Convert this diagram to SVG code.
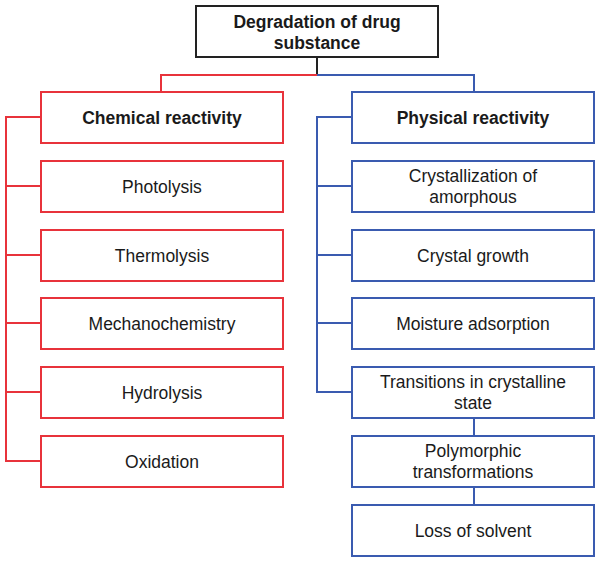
<svg xmlns="http://www.w3.org/2000/svg" width="600" height="561" viewBox="0 0 600 561">
<style>
rect{fill:#fff;stroke-width:2}
.r rect{stroke:#e8333b}.b rect{stroke:#3a5bb0}.k rect{stroke:#222}
text{font-family:"Liberation Sans",Arial,sans-serif;font-size:17.5px;fill:#1a1a1a;text-anchor:middle}
.bold{font-weight:bold}
.cr{stroke:#e8333b;stroke-width:2;fill:none}.cb{stroke:#3a5bb0;stroke-width:2;fill:none}.ck{stroke:#222;stroke-width:2;fill:none}
</style>
<rect width="600" height="561" fill="#fff" stroke="none"/>
<g id="connectors">
<path class="ck" d="M317 57V75"/>
<path class="cr" d="M317 75H161V92M41 117H6V461H41M6 186H41M6 255H41M6 323H41M6 392H41"/>
<path class="cb" d="M317 75H474V92M352 117H317V392H352M317 186H352M317 255H352M317 323H352M474 418V436M474 487V505"/>
</g>
<g id="root" class="k"><rect x="196" y="6" width="242" height="51"/><text class="bold" x="317" y="28">Degradation of drug</text><text class="bold" x="317" y="49">substance</text></g>
<g id="chem" class="r"><rect x="41" y="92" width="242" height="51"/><text class="bold" x="162" y="124">Chemical reactivity</text></g>
<g id="photo" class="r"><rect x="41" y="161" width="242" height="51"/><text x="162" y="193">Photolysis</text></g>
<g id="thermo" class="r"><rect x="41" y="230" width="242" height="51"/><text x="162" y="262">Thermolysis</text></g>
<g id="mech" class="r"><rect x="41" y="298" width="242" height="51"/><text x="162" y="330">Mechanochemistry</text></g>
<g id="hydro" class="r"><rect x="41" y="367" width="242" height="51"/><text x="162" y="399">Hydrolysis</text></g>
<g id="oxid" class="r"><rect x="41" y="436" width="242" height="51"/><text x="162" y="468">Oxidation</text></g>
<g id="phys" class="b"><rect x="352" y="92" width="242" height="51"/><text class="bold" x="473" y="124">Physical reactivity</text></g>
<g id="cryst" class="b"><rect x="352" y="161" width="242" height="51"/><text x="473" y="182">Crystallization of</text><text x="473" y="203">amorphous</text></g>
<g id="growth" class="b"><rect x="352" y="230" width="242" height="51"/><text x="473" y="262">Crystal growth</text></g>
<g id="moist" class="b"><rect x="352" y="298" width="242" height="51"/><text x="473" y="330">Moisture adsorption</text></g>
<g id="trans" class="b"><rect x="352" y="367" width="242" height="51"/><text x="473" y="388">Transitions in crystalline</text><text x="473" y="409">state</text></g>
<g id="poly" class="b"><rect x="352" y="436" width="242" height="51"/><text x="473" y="457">Polymorphic</text><text x="473" y="478">transformations</text></g>
<g id="loss" class="b"><rect x="352" y="505" width="242" height="51"/><text x="473" y="537">Loss of solvent</text></g>
</svg>
